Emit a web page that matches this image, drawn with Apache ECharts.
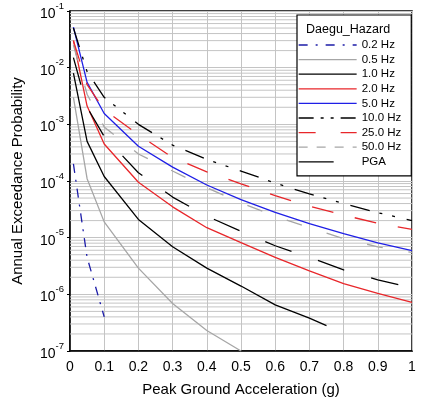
<!DOCTYPE html>
<html><head><meta charset="utf-8">
<script src="https://cdn.jsdelivr.net/npm/echarts@6/dist/echarts.min.js"></script>
<style>html,body{margin:0;padding:0;background:#fff}#c{width:426px;height:402px}</style>
</head><body><div id="c"></div>
<script>
const seriesNames = ['0.2 Hz','0.5 Hz','1.0 Hz','2.0 Hz','5.0 Hz','10.0 Hz','25.0 Hz','50.0 Hz','PGA'];
const xFull = [0.01,0.05,0.1,0.2,0.3,0.4,0.5,0.6,0.7,0.8,0.9,1.0];
const x02 = [0.01,0.05,0.1];
const x05 = [0.01,0.05,0.1,0.2,0.3,0.4,0.5];
const x10 = [0.01,0.05,0.1,0.2,0.3,0.4,0.5,0.6,0.7,0.75];
const hz02 = [2e-4,4.5e-6,4e-7];
const hz05 = [3e-3,1.1e-4,1.9e-5,2.9e-6,6.9e-7,2.3e-7,1e-7];
const hz1 = [8e-3,5e-4,1.2e-4,2.1e-5,6.9e-6,2.9e-6,1.4e-6,6.5e-7,3.8e-7,2.8e-7];
const hz2 = [3.0e-2,2.1e-3,4.5e-4,9.5e-5,3.5e-5,1.5e-5,8.2e-6,4.5e-6,2.6e-6,1.55e-6,1.04e-6,7.2e-7];
const hz5 = [5.2e-2,5.5e-3,1.55e-3,4.1e-4,1.76e-4,8.5e-5,4.7e-5,2.8e-5,1.77e-5,1.18e-5,8.1e-6,5.9e-6];
const hz10 = [5.0e-2,8.5e-3,3.0e-3,1.0e-3,4.3e-4,2.4e-4,1.5e-4,9.2e-5,5.9e-5,4.0e-5,2.76e-5,2.0e-5];
const hz25 = [3.0e-2,5.0e-3,1.8e-3,6.6e-4,2.6e-4,1.45e-4,8.9e-5,5.5e-5,3.6e-5,2.5e-5,1.8e-5,1.4e-5];
const hz50 = [2.5e-2,3.4e-3,9.0e-4,3.0e-4,1.5e-4,7.6e-5,4.1e-5,2.4e-5,1.5e-5,9.6e-6,6.9e-6,5.5e-6];
const pga = [1.5e-2,2.0e-3,6.1e-4,1.4e-4,5.2e-5,2.4e-5,1.3e-5,7.2e-6,4.5e-6,2.7e-6,1.8e-6,1.3e-6];
const xTicks = ['0','0.1','0.2','0.3','0.4','0.5','0.6','0.7','0.8','0.9','1'];
const minorMantissas = [2,3,4,5,6,7,8,9];
const decades = [-7,-6,-5,-4,-3,-2];

const zip = (xs, ys) => xs.map((x,i)=>[x, ys[i]]);

const styles = [
  {color:'#1c1ca8', type:[9,7,2,7], legendType:[9,8,2,8]},
  {color:'#a6a6a6', type:'solid', legendType:'solid'},
  {color:'#000000', type:'solid', legendType:'solid'},
  {color:'#e8262a', type:'solid', legendType:'solid'},
  {color:'#1f1fe6', type:'solid', legendType:'solid'},
  {color:'#000000', type:[20,10,3,10,3,12], legendType:[15,7,3,7,3,7]},
  {color:'#e8262a', type:[22,22], legendType:[17,25]},
  {color:'#a6a6a6', type:[16,26], legendType:[9,9]},
  {color:'#000000', type:[28,28], legendType:[35,30]}
];
const datas = [zip(x02,hz02), zip(x05,hz05), zip(x10,hz1), zip(xFull,hz2), zip(xFull,hz5), zip(xFull,hz10), zip(xFull,hz25), zip(xFull,hz50), zip(xFull,pga)];

const series = [];
// minor horizontal grid lines at 2..9 x 10^n, drawn through the axes
decades.forEach(e=>minorMantissas.forEach(m=>{
  const v = m*Math.pow(10,e);
  series.push({type:'line', data:[[0,v],[1,v]], showSymbol:false, symbol:'none', silent:true, z:1,
    lineStyle:{color:'#c4c4c4', width:1}, tooltip:{show:false}});
}));
seriesNames.forEach((n,i)=>series.push({
  name:n, type:'line', data:datas[i], showSymbol:false, symbol:'none', smooth:false,
  lineStyle:{color:styles[i].color, type:styles[i].type, width:1.3},
  itemStyle:{color:styles[i].color}, z:5, silent:true
}));

const chart = echarts.init(document.getElementById('c'));
chart.setOption({
  animation:false,
  backgroundColor:'#fff',
  grid:{left:70, right:14, top:11, bottom:49, show:true, borderColor:'#000', borderWidth:1.5},
  xAxis:{type:'value', min:0, max:1, interval:0.1,
    axisLine:{show:true, lineStyle:{color:'#000', width:1.5}},
    axisTick:{show:false},
    axisLabel:{formatter:(v)=>xTicks[Math.round(v*10)], fontFamily:'Liberation Sans, Arial', fontSize:14, color:'#000', margin:9},
    splitLine:{show:true, lineStyle:{color:'#c4c4c4', width:1}},
    name:'Peak Ground Acceleration (g)', nameLocation:'middle', nameGap:31,
    nameTextStyle:{fontFamily:'Liberation Sans, Arial', fontSize:15, color:'#000'}
  },
  yAxis:{type:'log', logBase:10, min:1e-7, max:1e-1,
    axisLine:{show:true, lineStyle:{color:'#000', width:1.5}},
    axisTick:{show:true, inside:false, length:3, lineStyle:{color:'#000'}},
    axisLabel:{fontFamily:'Liberation Sans, Arial', color:'#000', margin:6,
      formatter:(v)=>{const e=Math.round(Math.log10(v)); return '{b|10}{s|'+e+'}';},
      rich:{b:{fontSize:14, fontFamily:'Liberation Sans, Arial', color:'#000', lineHeight:20, verticalAlign:'bottom'},
            s:{fontSize:9.5, fontFamily:'Liberation Sans, Arial', color:'#000', lineHeight:20, verticalAlign:'top'}}},
    splitLine:{show:true, lineStyle:{color:'#c4c4c4', width:1}},
    name:'Annual Exceedance Probability', nameLocation:'middle', nameGap:45,
    nameTextStyle:{fontFamily:'Liberation Sans, Arial', fontSize:15, color:'#000'}
  },
  legend:{show:true, orient:'vertical', left:297, top:15,
    data:seriesNames.map((n,i)=>({name:n, itemStyle:{opacity:0}, lineStyle:{type:styles[i].legendType, width:1.3, color:styles[i].color}})),
    itemWidth:58, itemHeight:10, itemGap:2.6, padding:[24,10,8,1],
    borderColor:'#000', borderWidth:1.2, backgroundColor:'#fff',
    textStyle:{fontFamily:'Liberation Sans, Arial', fontSize:11.5, color:'#000'},
    selectedMode:false, z:10},
  graphic:[{type:'text', left:306, top:23, z:20, style:{text:'Daegu_Hazard', font:'12.5px "Liberation Sans", Arial', fill:'#000'}}],
  series: series
});
</script></body></html>
